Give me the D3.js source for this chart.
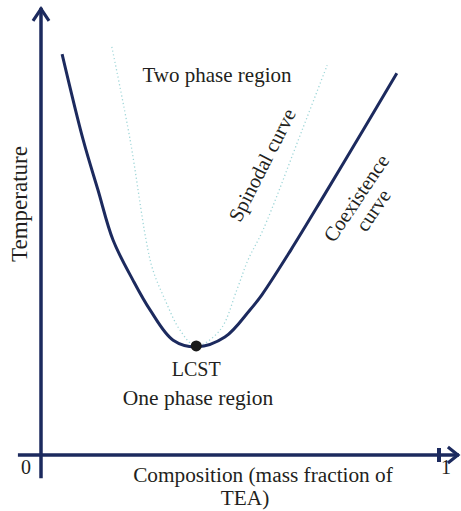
<!DOCTYPE html>
<html>
<head>
<meta charset="utf-8">
<script src="https://cdn.jsdelivr.net/npm/d3@7"></script>
<style>
  body { margin: 0; background: #fff; }
  svg text { font-family: "Liberation Serif", "Times New Roman", serif; fill: #231f20; }
</style>
</head>
<body>
<svg></svg>
<script>
// coexistence (binodal) curve: composition, temperature (arbitrary units)
var coexX = [0.053, 0.106, 0.143, 0.181, 0.231, 0.274, 0.332, 0.392, 0.462, 0.525, 0.555, 0.628, 0.709, 0.814, 0.894];
var coexT = [90.1, 70.8, 59.6, 48.3, 39.3, 32.6, 25.8, 24.3, 26.5, 32.6, 36.0, 46.1, 58.0, 73.7, 85.8];

// spinodal curve
var spinX = [0.178, 0.224, 0.264, 0.281, 0.312, 0.349, 0.389, 0.450, 0.492, 0.520, 0.558, 0.656, 0.719];
var spinT = [91.7, 70.8, 48.3, 41.6, 34.8, 28.1, 24.5, 28.1, 37.1, 43.8, 50.6, 73.0, 87.6];

// critical point
var lcst = [0.39, 24.5];

var tickLabels = ["0", "1"];

var width = 461;
var height = 511;
var navy = "#1c2a5e";

var svg = d3.select('svg')
	.attr("width", width)
	.attr("height", height);

var xScale = d3.scaleLinear()
	.domain([0, 1])
	.range([41, 439]);

var yScale = d3.scaleLinear()
	.domain([0, 100])
	.range([455, 10]);

var coex = coexX.map(function(x, i){ return [x, coexT[i]]; });
var spin = spinX.map(function(x, i){ return [x, spinT[i]]; });

var line = d3.line()
	.x(d => xScale(d[0]))
	.y(d => yScale(d[1]))
	.curve(d3.curveCatmullRom.alpha(0.5));

// spinodal (dotted)
svg.append("path")
	.datum(spin)
	.attr("d", line)
	.attr("fill", "none")
	.attr("stroke", "#9fd6d8")
	.attr("stroke-width", 1.3)
	.attr("stroke-dasharray", "1.2 2.6");

// coexistence curve
svg.append("path")
	.datum(coex)
	.attr("d", line)
	.attr("fill", "none")
	.attr("stroke", navy)
	.attr("stroke-width", 3);

// LCST point
svg.append("circle")
	.attr("cx", xScale(lcst[0]))
	.attr("cy", yScale(lcst[1]))
	.attr("r", 5.5)
	.attr("fill", "#1a1a1a");

//axes
var x0 = xScale(0), y0 = yScale(0);
svg.append("line")
	.attr("x1", xScale(-0.058)).attr("x2", xScale(1.05))
	.attr("y1", y0).attr("y2", y0)
	.attr("stroke", navy).attr("stroke-width", 3.5);
svg.append("line")
	.attr("x1", x0).attr("x2", x0)
	.attr("y1", yScale(-5.2)).attr("y2", yScale(100.5))
	.attr("stroke", navy).attr("stroke-width", 3.5);

// arrow heads
var yTop = yScale(100.5);
svg.append("path")
	.attr("d", "M" + (x0 - 8) + "," + (yTop + 13) + "L" + x0 + "," + (yTop + 1) + "L" + (x0 + 8) + "," + (yTop + 13))
	.attr("fill", "none").attr("stroke", navy).attr("stroke-width", 3.2);
var xEnd = xScale(1.05);
svg.append("path")
	.attr("d", "M" + (xEnd - 11) + "," + (y0 - 8) + "L" + (xEnd - 1) + "," + y0 + "L" + (xEnd - 11) + "," + (y0 + 8))
	.attr("fill", "none").attr("stroke", navy).attr("stroke-width", 3.2);

// tick at 1
svg.append("line")
	.attr("x1", xScale(1)).attr("x2", xScale(1))
	.attr("y1", y0 - 7).attr("y2", y0 + 7)
	.attr("stroke", navy).attr("stroke-width", 4);

svg.selectAll(".tick-label")
	.data(tickLabels)
	.enter()
	.append("text")
	.attr("class", "tick-label")
	.attr("x", (d, i) => i == 0 ? xScale(0) - 15 : xScale(1) + 7)
	.attr("y", y0 + 19)
	.attr("text-anchor", "middle")
	.attr("font-size", 20)
	.text(d => d);

// labels
svg.append("text")
	.attr("x", 263).attr("y", 482)
	.attr("text-anchor", "middle")
	.attr("font-size", 21.3)
	.text("Composition (mass fraction of");
svg.append("text")
	.attr("x", 245).attr("y", 505)
	.attr("text-anchor", "middle")
	.attr("font-size", 21.3)
	.text("TEA)");

svg.append("text")
	.attr("transform", "translate(27,204) rotate(-90)")
	.attr("text-anchor", "middle")
	.attr("font-size", 23)
	.text("Temperature");

svg.append("text")
	.attr("x", 217).attr("y", 82)
	.attr("text-anchor", "middle")
	.attr("font-size", 21)
	.text("Two phase region");

svg.append("text")
	.attr("x", xScale(lcst[0])).attr("y", 376)
	.attr("text-anchor", "middle")
	.attr("font-size", 20)
	.text("LCST");

svg.append("text")
	.attr("x", 198).attr("y", 405)
	.attr("text-anchor", "middle")
	.attr("font-size", 21.5)
	.text("One phase region");

svg.append("text")
	.attr("transform", "translate(262,165) rotate(-63)")
	.attr("text-anchor", "middle")
	.attr("dy", "0.35em")
	.attr("font-size", 20.5)
	.text("Spinodal curve");

svg.append("text")
	.attr("transform", "translate(356,198) rotate(-56)")
	.attr("text-anchor", "middle")
	.attr("dy", "0.35em")
	.attr("font-size", 20.5)
	.text("Coexistence");
svg.append("text")
	.attr("transform", "translate(373,210) rotate(-56)")
	.attr("text-anchor", "middle")
	.attr("dy", "0.35em")
	.attr("font-size", 20.5)
	.text("curve");
</script>
</body>
</html>
